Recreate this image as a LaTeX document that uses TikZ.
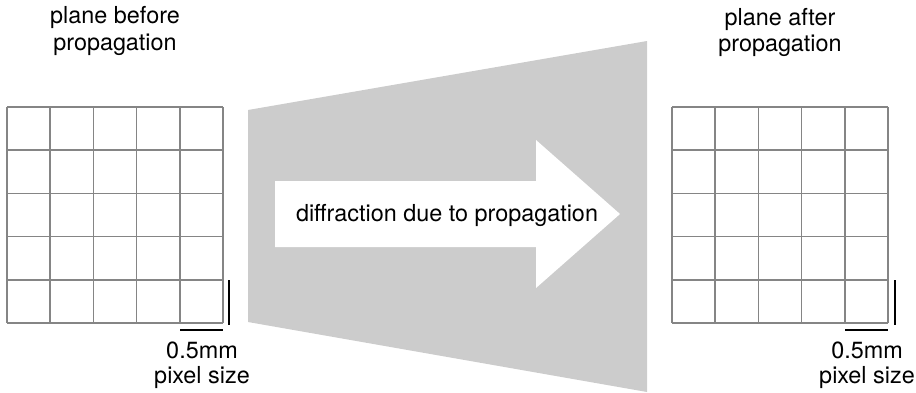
\documentclass[tikz,border=0pt]{standalone}
\usepackage{fontspec}
\setmainfont{TeX Gyre Heros}
\begin{document}
\begin{tikzpicture}[x=1pt,y=-1pt,
  gridline/.style={draw=black!48,line width=1.5pt},
  scalebar/.style={draw=black,line width=2.8pt},
  lbl/.style={font=\fontsize{23.4}{28}\selectfont,inner sep=0pt,anchor=base},
  beam/.style={fill=black!20,draw=none},
  arrowbody/.style={fill=white,draw=none}]
\useasboundingbox (0,0) rectangle (916,392);

% widening beam between the two planes
\fill[beam] (248,110) -- (647,41) -- (647,392) -- (248,322) -- cycle;
% propagation arrow
\fill[arrowbody] (275,181) -- (536,181) -- (536,140) -- (620,214)
  -- (536,288) -- (536,247) -- (275,247) -- cycle;
\node[lbl] (diff) at (447,221) {diffraction due to propagation};

% plane before propagation: 5x5 pixel grid
\foreach \i in {0,...,5} {
  \draw[gridline] (7+43.2*\i,107) -- (7+43.2*\i,323);
  \draw[gridline] (7,107+43.2*\i) -- (223,107+43.2*\i);
}
% plane after propagation: 5x5 pixel grid
\foreach \i in {0,...,5} {
  \draw[gridline] (672+43.2*\i,107) -- (672+43.2*\i,323);
  \draw[gridline] (672,107+43.2*\i) -- (888,107+43.2*\i);
}

% scale bars (one pixel)
\coordinate (lv1) at (229,280); \coordinate (lv2) at (229,325);
\coordinate (lh1) at (180,330); \coordinate (lh2) at (223,330);
\draw[scalebar] (lv1) -- (lv2);
\draw[scalebar] (lh1) -- (lh2);
\coordinate (rv1) at (895,280); \coordinate (rv2) at (895,325);
\coordinate (rh1) at (845,330); \coordinate (rh2) at (888,330);
\draw[scalebar] (rv1) -- (rv2);
\draw[scalebar] (rh1) -- (rh2);

% labels
\node[lbl] (lt1) at (115,23) {plane before};
\node[lbl] (lt2) at (115,50) {propagation};
\node[lbl] (rt1) at (780,25) {plane after};
\node[lbl] (rt2) at (780,51) {propagation};
\node[lbl] (ls1) at (202,358) {0.5mm};
\node[lbl] (ls2) at (202,383) {pixel size};
\node[lbl] (rs1) at (867,358) {0.5mm};
\node[lbl] (rs2) at (867,383) {pixel size};
\end{tikzpicture}
\end{document}
